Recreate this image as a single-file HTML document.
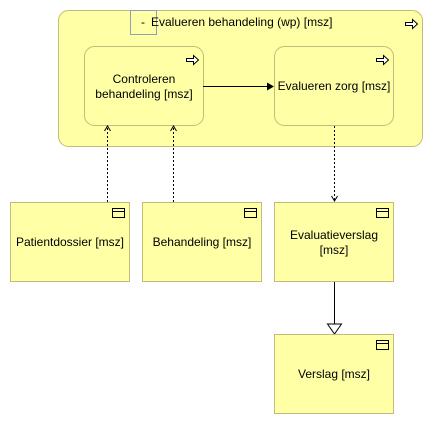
<!DOCTYPE html>
<html><head><meta charset="utf-8"><style>
html,body{margin:0;padding:0;background:#fff;width:433px;height:424px;overflow:hidden}
svg text{font-family:"Liberation Sans",sans-serif;font-size:12px;fill:#000}
</style></head><body>
<svg width="433" height="424" viewBox="0 0 433 424" xmlns="http://www.w3.org/2000/svg">
<defs>
<g id="proc"><path d="M0.5,3.5 h7 v-3 l5,4.5 l-5,4.5 v-3 h-7 z" fill="#fff" stroke="#000" stroke-width="1"/></g>
<g id="obj"><rect x="0.5" y="0.5" width="12" height="9" fill="none" stroke="#000"/><line x1="0.5" y1="3.5" x2="12.5" y2="3.5" stroke="#000"/></g>
</defs>
<rect x="58.5" y="10.5" width="364" height="136" rx="10" fill="#ffffa6" stroke="#c2bc78"/>
<rect x="130.5" y="10.5" width="26" height="24" fill="none" stroke="#8f9fb8"/>
<text x="141" y="26">-</text>
<text x="151" y="26">Evalueren behandeling (wp) [msz]</text>
<use href="#proc" x="405" y="19"/>
<rect x="84.5" y="46.5" width="119" height="79" rx="10" fill="#ffffa6" stroke="#c2bc78"/>
<use href="#proc" x="186" y="55"/>
<text x="144" y="83" text-anchor="middle">Controleren</text>
<text x="144" y="98" text-anchor="middle">behandeling [msz]</text>
<rect x="274.5" y="46.5" width="119" height="79" rx="10" fill="#ffffa6" stroke="#c2bc78"/>
<use href="#proc" x="376" y="55"/>
<text x="334" y="90" text-anchor="middle">Evalueren zorg [msz]</text>
<line x1="203" y1="86.5" x2="268" y2="86.5" stroke="#000"/>
<path d="M267,82.5 L274,86.5 L267,90.5 z" fill="#000"/>
<g stroke="#000" stroke-dasharray="2,2" fill="none">
<line x1="107.5" y1="202" x2="107.5" y2="127"/>
<line x1="173.5" y1="202" x2="173.5" y2="127"/>
<line x1="334.5" y1="126" x2="334.5" y2="201"/>
</g>
<g stroke="#000" fill="none">
<path d="M104.5,131 L107.5,126 L110.5,131"/>
<path d="M170.5,131 L173.5,126 L176.5,131"/>
<path d="M331.5,196 L334.5,201 L337.5,196"/>
</g>
<rect x="10.5" y="202.5" width="119" height="79" fill="#ffffa6" stroke="#c2bc78"/>
<use href="#obj" x="112" y="208"/>
<text x="70" y="246" text-anchor="middle">Patientdossier [msz]</text>
<rect x="142.5" y="202.5" width="119" height="79" fill="#ffffa6" stroke="#c2bc78"/>
<use href="#obj" x="244" y="208"/>
<text x="202" y="246" text-anchor="middle">Behandeling [msz]</text>
<rect x="274.5" y="202.5" width="119" height="79" fill="#ffffa6" stroke="#c2bc78"/>
<use href="#obj" x="376" y="208"/>
<text x="334" y="239" text-anchor="middle">Evaluatieverslag</text>
<text x="334" y="254" text-anchor="middle">[msz]</text>
<line x1="334.5" y1="282" x2="334.5" y2="324" stroke="#000"/>
<path d="M327.5,324 L341.5,324 L334.5,334 z" fill="#fff" stroke="#000"/>
<rect x="274.5" y="334.5" width="119" height="79" fill="#ffffa6" stroke="#c2bc78"/>
<use href="#obj" x="376" y="340"/>
<text x="334" y="378" text-anchor="middle">Verslag [msz]</text>
</svg>
</body></html>
